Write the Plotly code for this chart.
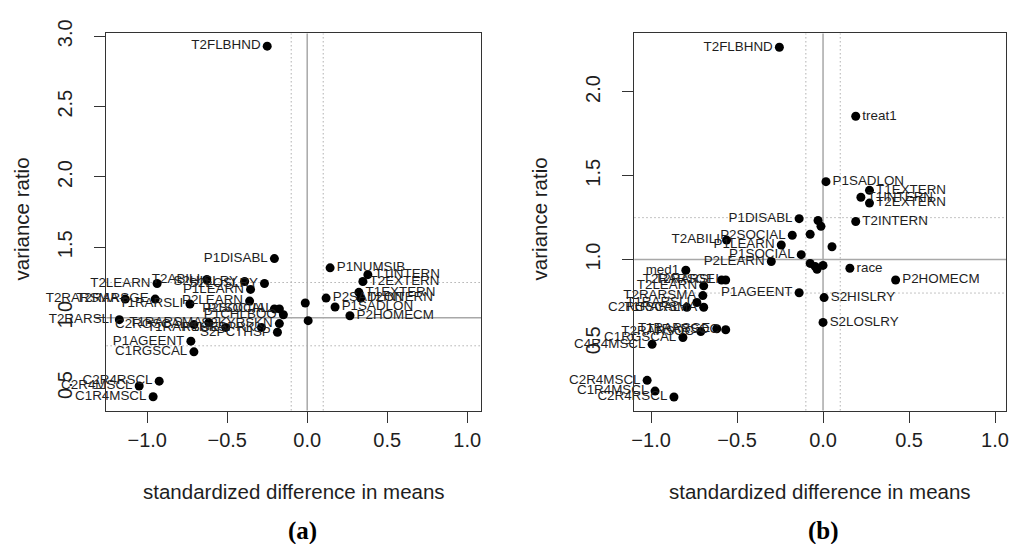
import plotly.graph_objects as go

# ---------------- data: panel (a) ----------------
a_names = ["T2FLBHND", "P1DISABL", "P1NUMSIB", "T1INTERN", "T2EXTERN", "T1EXTERN", "T2INTERN",
           "P2SADLON", "P1SADLON", "P2HOMECM", "", "",
           "T2LEARN", "T2ABILI", "S2HISLRY", "S2LOSLRY", "P1LEARN", "P2LEARN",
           "T2RARSMA", "T2RARSGE", "T1RARSLI", "T2RARSLI",
           "P2SOCIAL", "P1SOCIAL", "P1CHLBOO", "S2KYRSKN", "S2PCTHSP",
           "C2RGSCAL", "T1RARSMA", "T1RARSGE", "P1HRSPRK",
           "P1AGEENT", "C1RGSCAL", "C2R4RSCL", "C2R4MSCL", "C1R4MSCL"]
a_diff = [-0.25, -0.205, 0.143, 0.379, 0.348, 0.323, 0.335,
          0.118, 0.174, 0.267, -0.012, 0.006,
          -0.938, -0.627, -0.391, -0.267, -0.354, -0.36,
          -1.137, -0.95, -0.733, -1.174,
          -0.205, -0.174, -0.149, -0.174, -0.186,
          -0.708, -0.615, -0.509, -0.286,
          -0.727, -0.708, -0.925, -1.05, -0.963]
a_ratio = [2.93, 1.42, 1.354, 1.306, 1.257, 1.18, 1.139,
           1.139, 1.076, 1.014, 1.104, 0.979,
           1.243, 1.271, 1.257, 1.243, 1.201, 1.118,
           1.132, 1.132, 1.097, 0.986,
           1.0625, 1.0625, 1.021, 0.958, 0.896,
           0.951, 0.965, 0.931, 0.931,
           0.833, 0.757, 0.549, 0.514, 0.4375]

# ---------------- data: panel (b) ----------------
b_names = ["T2FLBHND", "treat1", "P1SADLON", "T1EXTERN", "T1INTERN", "T2EXTERN", "T2INTERN",
           "race", "P2HOMECM", "S2HISLRY", "S2LOSLRY",
           "P1DISABL", "P2SOCIAL", "P1LEARN", "T2ABILI", "P1SOCIAL", "P2LEARN", "med1",
           "T2RARSGE", "T2RARSLI", "T2LEARN", "P1AGEENT", "T2RARSMA", "T1RARSLI",
           "C2RGSCAL", "T1RARSMA", "T1RARSGE", "T1RARSOC", "T2RARSOC", "C1RGSCAL",
           "C4R4MSCL", "C2R4MSCL", "C1R4MSCL", "C2R4RSCL",
           "", "", "", "", "", "", "", ""]
b_diff = [-0.254, 0.19, 0.017, 0.27, 0.22, 0.27, 0.19,
          0.156, 0.422, 0.006, 0.0,
          -0.139, -0.179, -0.243, -0.561, -0.127, -0.301, -0.798,
          -0.59, -0.566, -0.694, -0.139, -0.699, -0.734,
          -0.792, -0.694, -0.618, -0.566, -0.711, -0.815,
          -0.994, -1.023, -0.977, -0.867,
          -0.029, -0.012, -0.075, 0.052, -0.075, -0.046, 0.0, -0.035]
b_ratio = [2.267, 1.855, 1.465, 1.413, 1.372, 1.337, 1.227,
           0.948, 0.878, 0.773, 0.625,
           1.244, 1.145, 1.087, 1.116, 1.029, 0.988, 0.936,
           0.878, 0.878, 0.843, 0.802, 0.785, 0.744,
           0.715, 0.715, 0.587, 0.581, 0.570, 0.535,
           0.494, 0.279, 0.215, 0.180,
           1.233, 1.198, 1.151, 1.076, 0.977, 0.959, 0.965, 0.942]

x_ticks = [-1.0, -0.5, 0.0, 0.5, 1.0]
x_ticktext = ["\u22121.0", "\u22120.5", "0.0", "0.5", "1.0"]
a_yticks = [0.5, 1.0, 1.5, 2.0, 2.5, 3.0]
b_yticks = [0.5, 1.0, 1.5, 2.0]
x_title = "standardized difference in means"
y_title = "variance ratio"
panel_labels = ["(a)", "(b)"]
ref_x = [-0.1, 0.1]
ref_y = [0.8, 1.25]

W, H = 1012, 544
FONT = "Liberation Sans, Arial, Helvetica, sans-serif"
TXT = "#1e1e1e"


def px_x(p):
    return p / W


def px_y(p):
    return 1 - p / H


def side(x):
    return "middle left" if x < -0.05 else "middle right"


fig = go.Figure()
for names, dx, vr, xa, ya in [(a_names, a_diff, a_ratio, "x", "y"),
                              (b_names, b_diff, b_ratio, "x2", "y2")]:
    fig.add_trace(go.Scatter(
        x=dx, y=vr, mode="markers+text", text=names,
        textposition=[side(v) for v in dx],
        textfont=dict(family=FONT, size=13.4, color=TXT),
        marker=dict(color="black", size=9, line=dict(width=0)),
        xaxis=xa, yaxis=ya, showlegend=False, cliponaxis=False,
    ))

DOT = "1.5px,2.5px"
shapes = []
for xr, yr in [("x", "y"), ("x2", "y2")]:
    for v in ref_x:
        shapes.append(dict(type="line", xref=xr, yref=yr + " domain", x0=v, x1=v, y0=0, y1=1,
                           line=dict(color="#b0b0b0", width=1, dash=DOT), layer="below"))
    for v in ref_y:
        shapes.append(dict(type="line", xref=xr + " domain", yref=yr, x0=0, x1=1, y0=v, y1=v,
                           line=dict(color="#b0b0b0", width=1, dash=DOT), layer="below"))
    shapes.append(dict(type="line", xref=xr, yref=yr + " domain", x0=0, x1=0, y0=0, y1=1,
                       line=dict(color="#a8a8a8", width=1.5), layer="below"))
    shapes.append(dict(type="line", xref=xr + " domain", yref=yr, x0=0, x1=1, y0=1, y1=1,
                       line=dict(color="#a8a8a8", width=1.5), layer="below"))

common_x = dict(tickvals=x_ticks, ticktext=x_ticktext, ticks="outside", ticklen=11,
                tickcolor="#333", tickwidth=1.2, showline=True, mirror=True, linecolor="#333",
                linewidth=1.3, showgrid=False, zeroline=False, ticklabelstandoff=0,
                tickfont=dict(family=FONT, size=20, color=TXT))
common_y = dict(ticks="outside", ticklen=11, tickcolor="#333", tickwidth=1.2, showline=True,
                mirror=True, linecolor="#333", linewidth=1.3, showgrid=False, zeroline=False,
                tickangle=-90, ticklabelstandoff=14,
                tickfont=dict(family=FONT, size=20, color=TXT))

dom_y = [px_y(407), px_y(20)]
fig.update_layout(
    width=W, height=H, margin=dict(l=0, r=0, t=0, b=0),
    plot_bgcolor="white", paper_bgcolor="white",
    xaxis=dict(domain=[px_x(104), px_x(481)], range=[-1.255, 1.087], anchor="y", **common_x),
    yaxis=dict(domain=dom_y, range=[0.34, 3.02], anchor="x", tickvals=a_yticks,
               ticktext=[f"{v:.1f}" for v in a_yticks], **common_y),
    xaxis2=dict(domain=[px_x(635), px_x(1009)], range=[-1.098, 1.064], anchor="y2", **common_x),
    yaxis2=dict(domain=dom_y, range=[0.099, 2.349], anchor="x2", tickvals=b_yticks,
                ticktext=[f"{v:.1f}" for v in b_yticks], **common_y),
    shapes=shapes,
)

ann = []
for cx, ty in [(292.5, 19), (822, 540)]:
    ann.append(dict(text=x_title, x=px_x(cx), y=px_y(490), xref="paper", yref="paper",
                    showarrow=False, xanchor="center", yanchor="middle",
                    font=dict(family=FONT, size=20.5, color=TXT)))
    ann.append(dict(text=y_title, x=px_x(ty), y=px_y(210), xref="paper", yref="paper",
                    showarrow=False, xanchor="center", yanchor="middle", textangle=-90,
                    font=dict(family=FONT, size=20.5, color=TXT)))
for cx, lab in zip([301, 825], panel_labels):
    ann.append(dict(text=f"<b>{lab}</b>", x=px_x(cx), y=px_y(531), xref="paper", yref="paper",
                    showarrow=False, xanchor="center", yanchor="middle",
                    font=dict(family="Liberation Serif, Times New Roman, serif", size=25, color="black")))
fig.update_layout(annotations=ann)

fig.write_html("out.html")
